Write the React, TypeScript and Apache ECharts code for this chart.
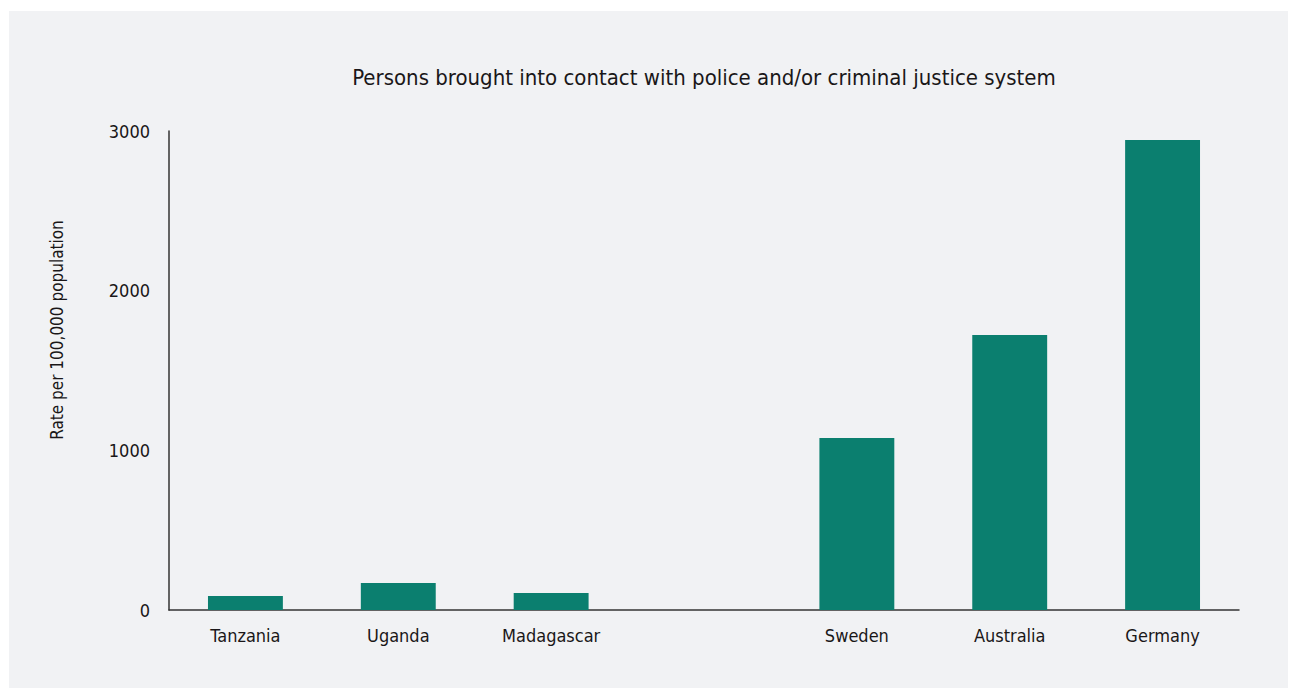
import React, { useEffect, useRef } from "react";
import * as echarts from "echarts";

const categories = ["Tanzania", "Uganda", "Madagascar", "", "Sweden", "Australia", "Germany"];
const values: (number | null)[] = [88, 169, 106, null, 1077, 1722, 2944];
const yTicks = [0, 1000, 2000, 3000];
const title = "Persons brought into contact with police and/or criminal justice system";
const yName = "Rate per 100,000 population";

const FONT = "'Liberation Sans Narrow', 'DejaVu Sans Condensed', 'Roboto', sans-serif";

export default function App() {
  const ref = useRef<HTMLDivElement>(null);
  useEffect(() => {
    const chart = echarts.init(ref.current!, null, { renderer: "svg" });
    chart.setOption({
      animation: false,
      backgroundColor: "#ffffff",
      graphic: [
        { type: "rect", z: -10, shape: { x: 9, y: 11, width: 1279, height: 677 }, style: { fill: "#f1f2f4" } },
        {
          type: "text",
          x: 57,
          y: 330,
          rotation: Math.PI / 2,
          style: { text: yName, font: `17px ${FONT}`, fill: "#1a1718", align: "center", verticalAlign: "middle" },
        },
      ],
      title: {
        text: title,
        left: 699,
        top: 61,
        textAlign: "center",
        textStyle: { fontFamily: FONT, fontSize: 22, fontWeight: "normal", color: "#1a1718" },
      },
      grid: { left: 169, right: 57, top: 131, bottom: 79, containLabel: false },
      xAxis: {
        type: "category",
        data: categories,
        axisLine: { lineStyle: { color: "#333333", width: 1.5 } },
        axisTick: { show: false },
        axisLabel: { fontFamily: FONT, fontSize: 18, color: "#1a1718", margin: 16, interval: 0 },
      },
      yAxis: {
        type: "value",
        min: yTicks[0],
        max: yTicks[yTicks.length - 1],
        interval: 1000,
        splitLine: { show: false },
        axisLine: { show: true, lineStyle: { color: "#333333", width: 1.5 } },
        axisTick: { show: false },
        axisLabel: { fontFamily: FONT, fontSize: 18, color: "#1a1718", margin: 19, formatter: (v: number) => String(v) },
      },
      series: [
        {
          type: "bar",
          data: values,
          barWidth: "49%",
          itemStyle: { color: "#0b7f6f" },
        },
      ],
    });
    return () => chart.dispose();
  }, []);
  return <div ref={ref} style={{ position: "fixed", left: 0, top: 0, width: 1296, height: 689 }} />;
}
